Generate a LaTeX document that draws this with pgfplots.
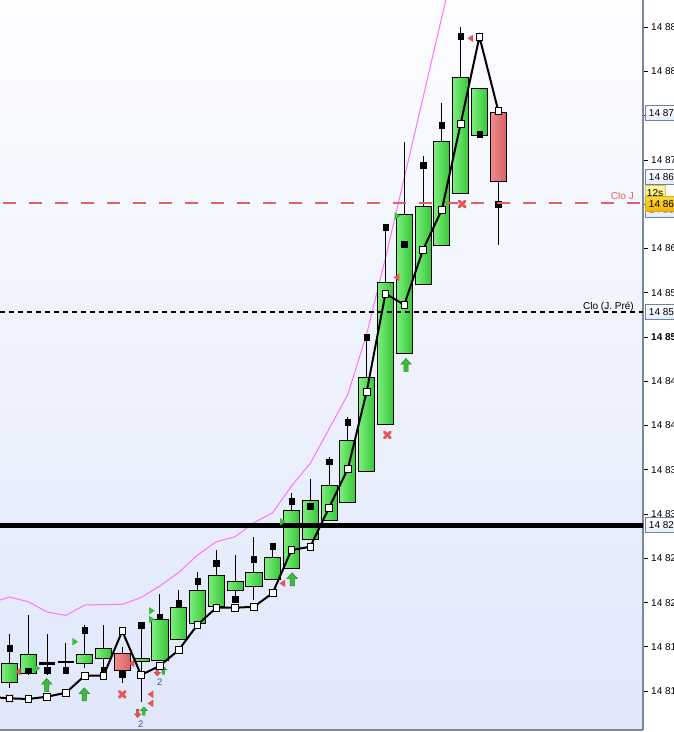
\documentclass[border=0pt]{standalone}
\usepackage{pgfplots}
\pgfplotsset{compat=1.18}
\usepackage{fontspec}
\setmainfont{Liberation Sans}
\definecolor{gL}{RGB}{125,238,125}
\definecolor{gR}{RGB}{55,198,55}
\definecolor{rL}{RGB}{242,140,140}
\definecolor{rR}{RGB}{215,98,98}
\definecolor{mag}{RGB}{255,115,255}
\definecolor{cloj}{RGB}{222,98,98}
\definecolor{bgTop}{RGB}{252,253,255}
\definecolor{bgBot}{RGB}{223,231,250}
\definecolor{axgray}{RGB}{125,135,155}
\definecolor{boxfill}{RGB}{228,236,250}
\definecolor{boxdraw}{RGB}{110,130,165}
\definecolor{arrG}{RGB}{60,190,60}
\definecolor{arrGd}{RGB}{35,135,35}
\definecolor{redm}{RGB}{232,85,85}
\definecolor{redl}{RGB}{238,120,120}
\definecolor{twoc}{RGB}{70,80,120}

\pgfdeclareplotmark{uparr}{%
  \pgfpathmoveto{\pgfqpoint{0pt}{6.5pt}}%
  \pgfpathlineto{\pgfqpoint{5.2pt}{0.8pt}}%
  \pgfpathlineto{\pgfqpoint{2.1pt}{0.8pt}}%
  \pgfpathlineto{\pgfqpoint{2.1pt}{-6.5pt}}%
  \pgfpathlineto{\pgfqpoint{-2.1pt}{-6.5pt}}%
  \pgfpathlineto{\pgfqpoint{-2.1pt}{0.8pt}}%
  \pgfpathlineto{\pgfqpoint{-5.2pt}{0.8pt}}%
  \pgfpathclose\pgfusepathqfillstroke}
\pgfdeclareplotmark{smup}{%
  \pgfpathmoveto{\pgfqpoint{0pt}{4.2pt}}%
  \pgfpathlineto{\pgfqpoint{3.3pt}{0.5pt}}%
  \pgfpathlineto{\pgfqpoint{1.3pt}{0.5pt}}%
  \pgfpathlineto{\pgfqpoint{1.3pt}{-4.2pt}}%
  \pgfpathlineto{\pgfqpoint{-1.3pt}{-4.2pt}}%
  \pgfpathlineto{\pgfqpoint{-1.3pt}{0.5pt}}%
  \pgfpathlineto{\pgfqpoint{-3.3pt}{0.5pt}}%
  \pgfpathclose\pgfusepathqfillstroke}
\pgfdeclareplotmark{smdown}{%
  \pgfpathmoveto{\pgfqpoint{0pt}{-4.2pt}}%
  \pgfpathlineto{\pgfqpoint{3.3pt}{-0.5pt}}%
  \pgfpathlineto{\pgfqpoint{1.3pt}{-0.5pt}}%
  \pgfpathlineto{\pgfqpoint{1.3pt}{4.2pt}}%
  \pgfpathlineto{\pgfqpoint{-1.3pt}{4.2pt}}%
  \pgfpathlineto{\pgfqpoint{-1.3pt}{-0.5pt}}%
  \pgfpathlineto{\pgfqpoint{-3.3pt}{-0.5pt}}%
  \pgfpathclose\pgfusepathqfillstroke}
\pgfdeclareplotmark{ltri}{%
  \pgfpathmoveto{\pgfqpoint{-3.2pt}{0pt}}%
  \pgfpathlineto{\pgfqpoint{2.6pt}{3.8pt}}%
  \pgfpathlineto{\pgfqpoint{2.6pt}{-3.8pt}}%
  \pgfpathclose\pgfusepathqfill}
\pgfdeclareplotmark{rtri}{%
  \pgfpathmoveto{\pgfqpoint{3.2pt}{0pt}}%
  \pgfpathlineto{\pgfqpoint{-2.6pt}{3.8pt}}%
  \pgfpathlineto{\pgfqpoint{-2.6pt}{-3.8pt}}%
  \pgfpathclose\pgfusepathqfill}

\tikzset{
  rbox/.style={draw=boxdraw, line width=0.9pt, top color=white, bottom color=boxfill,
    anchor=west, minimum height=15pt, inner ysep=2pt, inner xsep=4pt, font=\fontsize{10}{12}\selectfont, xshift=1.5pt},
}

\begin{document}
\begin{tikzpicture}
\begin{axis}[
  scale only axis,
  width=643pt, height=730pt,
  xmin=-0.505, xmax=33.70,
  ymin=14805.61, ymax=14888.07,
  axis x line*=bottom, axis y line*=right,
  axis line style={axgray, line width=1.5pt, -},
  xtick=\empty,
  ytick={14810,14815,14820,14825,14830,14835,14840,14845,14850,14855,14860,14865,14870,14875,14880,14885},
  yticklabels={14 810,14 815,14 820,14 825,14 830,14 835,14 840,14 845,{\bfseries 14 850},14 855,14 860,14 865,14 870,14 875,14 880,14 885},
  tick align=outside,
  major tick length=5pt,
  ytick style={black, line width=0.8pt},
  yticklabel style={font=\fontsize{10}{12}\selectfont, anchor=west, inner sep=0pt, xshift=3pt},
  axis background/.style={top color=bgTop, bottom color=bgBot},
  clip mode=individual,
]

% Upper band (magenta)
\addplot[mag, line width=1pt] coordinates {
 (-1,14819.95) (0,14820.63) (1,14820.10) (2,14818.94) (3,14818.56) (4,14819.73)
 (5,14819.78) (6,14819.80) (7,14820.57) (8,14821.87) (9,14823.40) (10,14825.37)
 (11,14826.88) (12,14827.44) (13,14829.02) (14,14830.15) (15,14833.17) (16,14835.73)
 (17,14839.61) (18,14843.53) (19,14850.34) (20,14858.92) (21,14867.96) (22,14877.05)
 (23,14886.15) (24,14895.07)};

% Wicks
\foreach \i/\h/\l in {0/14816.45/14810.35, 1/14818.60/14811.82, 2/14816.45/14811.82,
  3/14815.47/14812.40, 4/14817.47/14812.60, 5/14817.47/14812.38, 6/14815.00/14810.92,
  7/14817.66/14808.80, 8/14820.94/14813.43, 9/14821.42/14815.85, 10/14823.45/14817.66,
  11/14825.94/14819.61, 12/14825.37/14819.95, 13/14827.37/14820.29, 14/14826.73/14822.63,
  15/14832.38/14823.87, 16/14833.93/14827.15, 17/14836.41/14829.29, 18/14840.93/14831.33,
  19/14850.23/14834.83, 20/14862.39/14840.14, 21/14871.99/14848.16, 22/14870.41/14855.95,
  23/14876.40/14860.36, 24/14884.98/14866.23, 25/14878.09/14872.45, 26/14875.38/14860.39}{
  \edef\tmp{\noexpand\addplot[black, line width=1pt] coordinates {(\i,\h) (\i,\l)};}\tmp
}

% Doji candles (open = close)
\foreach \i/\o in {2/14813.12, 3/14813.27}{
  \pgfmathsetmacro\xa{\i-0.43}\pgfmathsetmacro\xb{\i+0.43}
  \edef\tmp{\noexpand\addplot[black, line width=2.6pt] coordinates {(\xa,\o) (\xb,\o)};}\tmp
}

% Green bodies (open / close)
\foreach \i/\o/\c in {0/14810.95/14813.14, 1/14812.01/14814.19,
  4/14813.14/14814.16, 5/14813.71/14814.84, 7/14813.37/14813.71,
  8/14813.43/14818.11, 9/14815.85/14819.50, 10/14817.66/14821.39, 11/14819.61/14823.08,
  12/14821.39/14822.40, 13/14821.79/14823.42, 14/14822.63/14825.11, 15/14823.87/14830.38,
  16/14827.15/14831.51, 17/14829.29/14833.28, 18/14831.33/14838.33, 19/14834.83/14845.45,
  20/14840.14/14856.18, 21/14848.16/14863.86, 22/14855.95/14864.76, 23/14860.36/14872.11,
  24/14866.23/14879.34, 25/14872.74/14878.09}{
  \pgfmathsetmacro\xa{\i-0.43}\pgfmathsetmacro\xb{\i+0.43}
  \edef\tmp{\noexpand\addplot[draw=black, line width=0.9pt, left color=gL, right color=gR]
     coordinates {(\xa,\o) (\xb,\o) (\xb,\c) (\xa,\c)} -- cycle;}\tmp
}
% Red bodies (open / close)
\foreach \i/\o/\c in {6/14814.27/14812.31, 26/14875.38/14867.54}{
  \pgfmathsetmacro\xa{\i-0.43}\pgfmathsetmacro\xb{\i+0.43}
  \edef\tmp{\noexpand\addplot[draw=black, line width=0.9pt, left color=rL, right color=rR]
     coordinates {(\xa,\o) (\xb,\o) (\xb,\c) (\xa,\c)} -- cycle;}\tmp
}

% Black square markers
\addplot[only marks, mark=square*, mark size=2.7pt, black] coordinates {
 (0,14814.87) (1,14812.31) (2,14812.38) (3,14812.38) (4,14816.90) (5,14812.38)
 (6,14811.93) (7,14817.43) (8,14818.40) (9,14819.92) (10,14822.40) (11,14824.44)
 (12,14820.37) (13,14824.89) (14,14826.36) (15,14831.44) (16,14830.91) (17,14835.91)
 (18,14840.36) (19,14849.97) (20,14862.39) (21,14860.47) (22,14869.40) (23,14873.91)
 (24,14883.97) (25,14872.90) (26,14864.99)};

% Horizontal reference lines
\addplot[black, line width=5pt] coordinates {(-1,14828.76) (34,14828.76)};
\addplot[black, line width=2pt, dash pattern=on 5pt off 4pt] coordinates {(-0.505,14852.82) (33.70,14852.82)};
\addplot[cloj, line width=2.2pt, dash pattern=on 12.7pt off 13.3pt, dash phase=-3pt] coordinates {(-0.505,14865.14) (33.70,14865.14)};

% signal markers
\addplot[only marks, mark=x, mark size=4.2pt, redl, mark options={line width=2.8pt, line cap=round}] coordinates {
 (0,14809.19) (14,14821.08)};
\addplot[only marks, mark=x, mark size=4.2pt, redm, mark options={line width=2.8pt, line cap=round}] coordinates {
 (6.0,14809.64) (20.1,14838.93) (24.08,14865.02)};
\addplot[only marks, mark=uparr, arrG, mark options={draw=arrGd, fill=arrG, line width=0.5pt}] coordinates {
 (1.98,14810.69) (3.98,14809.64) (15.04,14822.63) (21.09,14846.84)};
\addplot[only marks, mark=smup, arrG, mark options={draw=arrGd, fill=arrG, line width=0.4pt}] coordinates {
 (7.15,14807.75) (8.18,14812.38)};
\addplot[only marks, mark=smdown, redm, mark options={draw=redm!80!black, fill=redm, line width=0.4pt}] coordinates {
 (6.82,14807.49) (7.86,14812.19)};
\addplot[only marks, mark=ltri, redm, mark options={fill=redm}] coordinates {
 (0.46,14812.19) (6.5,14813.14) (7.51,14809.64) (7.51,14808.62) (14.53,14822.18) (20.6,14856.74) (24.53,14883.74)};
\addplot[only marks, mark=rtri, arrG, mark options={fill=arrG}] coordinates {
 (1.48,14812.58) (3.48,14815.58) (7.56,14819.08) (7.56,14818.11) (14.53,14829.14) (20.63,14863.67)};

% Trailing indicator line
\addplot[black, line width=2pt, mark=square*, mark size=3.3pt, mark options={fill=white, draw=black, line width=0.9pt}] coordinates {
 (-1,14809.33) (0,14809.19) (1,14809.11) (2,14809.37) (3,14809.82) (4,14811.74)
 (5,14811.74) (6,14816.79) (7,14811.82) (8,14812.87) (9,14814.64) (10,14817.50)
 (11,14819.42) (12,14819.42) (13,14819.53) (14,14821.08) (15,14825.94) (16,14826.31)
 (17,14830.72) (18,14835.12) (19,14843.82) (20,14854.89) (21,14853.65) (22,14859.86)
 (23,14864.38) (24,14874.09) (25,14883.92) (26,14875.56)};

% small count labels
\node[twoc, font=\fontsize{9.5}{10}\selectfont] at (axis cs:6.98,14806.28) {2};
\node[twoc, font=\fontsize{9.5}{10}\selectfont] at (axis cs:8.0,14811.00) {2};

% line labels
\node[cloj, anchor=base east, font=\fontsize{10}{12}\selectfont, inner sep=0pt] at (axis cs:33.22,14865.55) {Clo J};
\node[black, anchor=base east, font=\fontsize{10}{12}\selectfont, inner sep=0pt] at (axis cs:33.22,14853.15) {Clo (J. Pré)};

% right-side price boxes
\node[rbox] at (axis cs:33.70,14875.30) {14 875};
\node[rbox] at (axis cs:33.70,14868.07) {14 868};
\node[rbox, text=cloj] at (axis cs:33.70,14864.35) {14 865};
\node[rbox, top color={rgb,255:red,255;green,248;blue,170}, bottom color={rgb,255:red,250;green,225;blue,70}, draw={rgb,255:red,220;green,200;blue,90}, minimum height=14pt, inner xsep=2pt] at (axis cs:33.70,14866.20) {12s\strut};
\node[rbox, top color={rgb,255:red,252;green,215;blue,60}, bottom color={rgb,255:red,240;green,180;blue,0}, draw={rgb,255:red,210;green,170;blue,40}] at (axis cs:33.70,14865.02) {14 865};
\node[rbox] at (axis cs:33.70,14852.82) {14 852};
\node[rbox] at (axis cs:33.70,14828.76) {14 828};
\end{axis}
\pgfresetboundingbox
\path[use as bounding box] (0,-2pt) rectangle (674pt,730pt);
\end{tikzpicture}
\end{document}
